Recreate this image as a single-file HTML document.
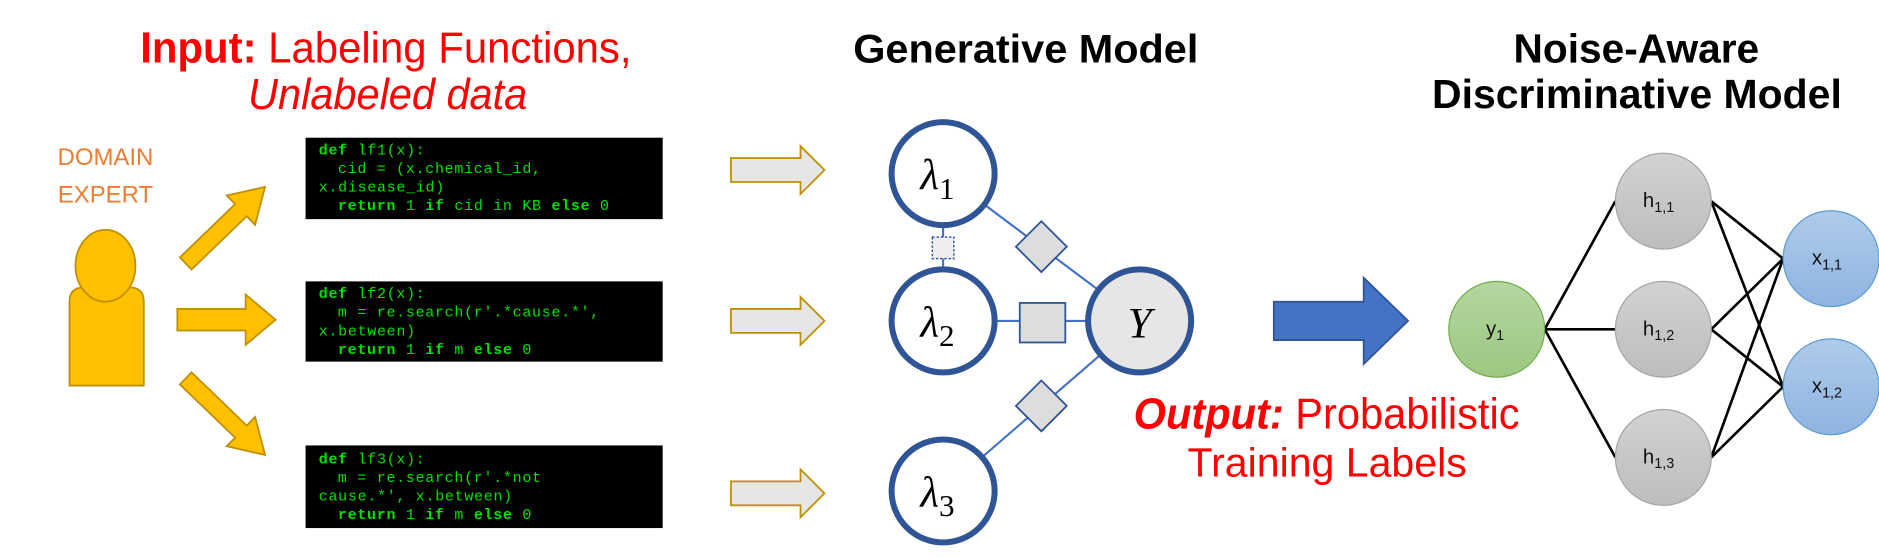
<!DOCTYPE html>
<html><head><meta charset="utf-8"><style>
html,body{margin:0;padding:0;background:#fff;}
svg{display:block;}
</style></head><body>
<svg width="1879" height="558" viewBox="0 0 1568 466" preserveAspectRatio="none" xmlns="http://www.w3.org/2000/svg" font-family="'Liberation Sans', sans-serif">
<defs>
<linearGradient id="gg" x1="0" y1="0" x2="0" y2="1"><stop offset="0" stop-color="#B5D6A0"/><stop offset="1" stop-color="#9CC781"/></linearGradient>
<linearGradient id="hg" x1="0" y1="0" x2="0" y2="1"><stop offset="0" stop-color="#D2D2D2"/><stop offset="1" stop-color="#BDBDBD"/></linearGradient>
<linearGradient id="xg" x1="0" y1="0" x2="0" y2="1"><stop offset="0" stop-color="#AFCBEA"/><stop offset="1" stop-color="#8EB4E0"/></linearGradient>
</defs>
<!-- Titles -->
<text x="117" y="52" font-size="36" fill="#FF0000" textLength="410" lengthAdjust="spacingAndGlyphs"><tspan font-weight="bold">Input:</tspan> Labeling Functions,</text>
<text x="207" y="91" font-size="36" fill="#FF0000" font-style="italic" textLength="233" lengthAdjust="spacingAndGlyphs">Unlabeled data</text>
<text x="712" y="52" font-size="33" font-weight="bold" textLength="288" lengthAdjust="spacingAndGlyphs">Generative Model</text>
<text x="1263" y="52" font-size="34" font-weight="bold" textLength="205" lengthAdjust="spacingAndGlyphs">Noise-Aware</text>
<text x="1195" y="90" font-size="34" font-weight="bold" textLength="342" lengthAdjust="spacingAndGlyphs">Discriminative Model</text>
<text x="946" y="358" font-size="36" fill="#FF0000" textLength="322" lengthAdjust="spacingAndGlyphs"><tspan font-weight="bold" font-style="italic">Output:</tspan> Probabilistic</text>
<text x="991" y="398" font-size="34" fill="#FF0000" textLength="233" lengthAdjust="spacingAndGlyphs">Training Labels</text>

<!-- Domain expert -->
<text x="88" y="138" font-size="20" fill="#ED7D31" text-anchor="middle">DOMAIN</text>
<text x="88" y="169" font-size="20" fill="#ED7D31" text-anchor="middle">EXPERT</text>
<path d="M58,322 L58,252 Q58,240 70,240 L108,240 Q120,240 120,252 L120,322 Z" fill="#FFC000" stroke="#BF9000" stroke-width="1.5"/>
<ellipse cx="88" cy="222" rx="25" ry="30" fill="#FFC000" stroke="#BF9000" stroke-width="1.5"/>
<!-- orange arrows -->
<g fill="#FFC000" stroke="#BF9000" stroke-width="1.5">
<polygon transform="translate(155,220) rotate(-44)" points="0,-7 64,-7 64,-17 92,0 64,17 64,7 0,7"/>
<polygon points="148,258 205,258 205,246 230,267 205,288 205,276 148,276"/>
<polygon transform="translate(155,316) rotate(44)" points="0,-7 64,-7 64,-17 92,0 64,17 64,7 0,7"/>
</g>

<!-- Code boxes -->
<g font-family="'Liberation Mono', monospace" font-size="12.5" letter-spacing="0.6" fill="#00E000">
<rect x="255" y="115" width="298" height="68" fill="#000"/>
<text x="266" y="129"><tspan font-weight="bold">def</tspan> lf1(x):</text>
<text x="282" y="144.5">cid = (x.chemical_id,</text>
<text x="266" y="160">x.disease_id)</text>
<text x="282" y="175.5"><tspan font-weight="bold">return</tspan> 1 <tspan font-weight="bold">if</tspan> cid in KB <tspan font-weight="bold">else</tspan> 0</text>

<rect x="255" y="235" width="298" height="67" fill="#000"/>
<text x="266" y="249"><tspan font-weight="bold">def</tspan> lf2(x):</text>
<text x="282" y="264.5">m = re.search(r'.*cause.*',</text>
<text x="266" y="280">x.between)</text>
<text x="282" y="295.5"><tspan font-weight="bold">return</tspan> 1 <tspan font-weight="bold">if</tspan> m <tspan font-weight="bold">else</tspan> 0</text>

<rect x="255" y="372" width="298" height="69" fill="#000"/>
<text x="266" y="387"><tspan font-weight="bold">def</tspan> lf3(x):</text>
<text x="282" y="402.5">m = re.search(r'.*not</text>
<text x="266" y="418">cause.*', x.between)</text>
<text x="282" y="433.5"><tspan font-weight="bold">return</tspan> 1 <tspan font-weight="bold">if</tspan> m <tspan font-weight="bold">else</tspan> 0</text>
</g>

<!-- hollow arrows -->
<g fill="#E7E6E6" stroke="#BF9000" stroke-width="1.5">
<polygon points="610,132 668,132 668,122 688,142 668,162 668,152 610,152"/>
<polygon points="610,258 668,258 668,248 688,268 668,288 668,278 610,278"/>
<polygon points="610,402 668,402 668,392 688,412 668,432 668,422 610,422"/>
</g>

<!-- generative model -->
<g stroke="#4472C4" stroke-width="1.8">
<line x1="787" y1="145" x2="787" y2="268"/>
<line x1="787" y1="268" x2="951" y2="268"/>
<line x1="787" y1="145" x2="951" y2="268"/>
<line x1="787" y1="410" x2="951" y2="268"/>
</g>
<rect x="778" y="198" width="18" height="18" fill="#EEEEEE" stroke="#2F5597" stroke-width="1.2" stroke-dasharray="2,1.5"/>
<rect x="851" y="253" width="38" height="33" fill="#DDDDDD" stroke="#2F5597" stroke-width="1.5"/>
<rect x="854" y="191" width="30" height="30" fill="#DDDDDD" stroke="#2F5597" stroke-width="1.5" transform="rotate(45 869 206)"/>
<rect x="854" y="324" width="30" height="30" fill="#DDDDDD" stroke="#2F5597" stroke-width="1.5" transform="rotate(45 869 339)"/>
<g stroke="#2F5597" stroke-width="5">
<circle cx="787" cy="145" r="43" fill="#fff"/>
<circle cx="787" cy="268" r="43" fill="#fff"/>
<circle cx="787" cy="410" r="43" fill="#fff"/>
<circle cx="951" cy="268" r="43" fill="#E7E6E6"/>
</g>
<g font-family="'Liberation Serif', 'DejaVu Serif', serif" font-style="italic" font-size="36">
<text x="768" y="158">λ<tspan font-style="normal" font-size="26" dy="8">1</tspan></text>
<text x="768" y="281">λ<tspan font-style="normal" font-size="26" dy="8">2</tspan></text>
<text x="768" y="423">λ<tspan font-style="normal" font-size="26" dy="8">3</tspan></text>
<text x="951" y="282" text-anchor="middle">Y</text>
</g>

<!-- blue arrow -->
<polygon points="1063,252 1138,252 1138,232 1175,268 1138,304 1138,284 1063,284" fill="#4472C4" stroke="#2F5597" stroke-width="1.5"/>

<!-- discriminative network -->
<g stroke="#000" stroke-width="2.2">
<line x1="1289" y1="275" x2="1348" y2="168"/>
<line x1="1289" y1="275" x2="1348" y2="275"/>
<line x1="1289" y1="275" x2="1348" y2="382"/>
<line x1="1428" y1="168" x2="1488" y2="216"/>
<line x1="1428" y1="168" x2="1488" y2="323"/>
<line x1="1428" y1="275" x2="1488" y2="216"/>
<line x1="1428" y1="275" x2="1488" y2="323"/>
<line x1="1428" y1="382" x2="1488" y2="216"/>
<line x1="1428" y1="382" x2="1488" y2="323"/>
</g>
<circle cx="1249" cy="275" r="40" fill="url(#gg)" stroke="#70AD47" stroke-width="1"/>
<circle cx="1388" cy="168" r="40" fill="url(#hg)" stroke="#A5A5A5" stroke-width="1"/>
<circle cx="1388" cy="275" r="40" fill="url(#hg)" stroke="#A5A5A5" stroke-width="1"/>
<circle cx="1388" cy="382" r="40" fill="url(#hg)" stroke="#A5A5A5" stroke-width="1"/>
<circle cx="1528" cy="216" r="40" fill="url(#xg)" stroke="#5B9BD5" stroke-width="1"/>
<circle cx="1528" cy="323" r="40" fill="url(#xg)" stroke="#5B9BD5" stroke-width="1"/>
<g font-size="17" fill="#111">
<text x="1240" y="280">y<tspan font-size="12" dy="4">1</tspan></text>
<text x="1371" y="173">h<tspan font-size="12" dy="4">1,1</tspan></text>
<text x="1371" y="280">h<tspan font-size="12" dy="4">1,2</tspan></text>
<text x="1371" y="387">h<tspan font-size="12" dy="4">1,3</tspan></text>
<text x="1512" y="221">x<tspan font-size="12" dy="4">1,1</tspan></text>
<text x="1512" y="328">x<tspan font-size="12" dy="4">1,2</tspan></text>
</g>
</svg>
</body></html>
